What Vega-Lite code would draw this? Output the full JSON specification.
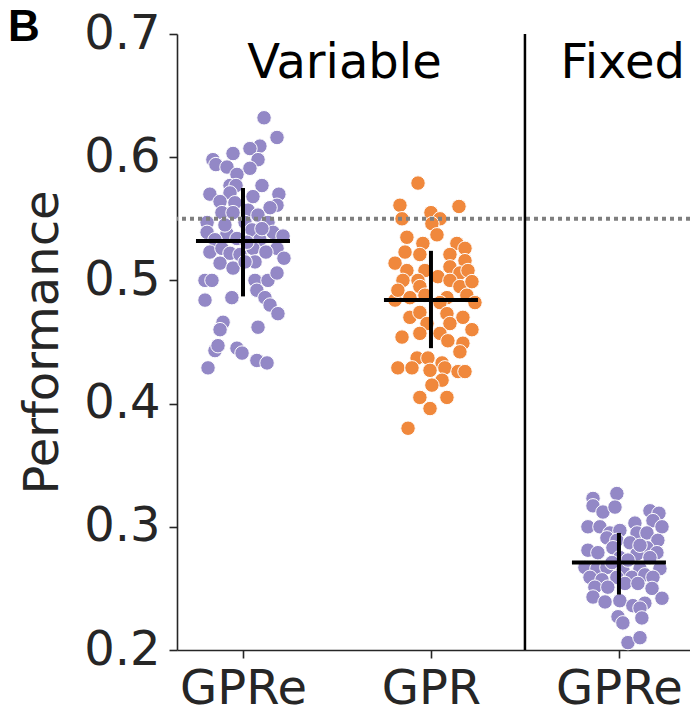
{
  "$schema": "https://vega.github.io/schema/vega-lite/v6.json",
  "width": 513,
  "height": 616,
  "autosize": {"type": "none"},
  "padding": {"left": 177, "top": 34, "right": 0, "bottom": 72},
  "background": "white",
  "config": {
    "view": {"stroke": null},
    "axis": {"labelFont": "DejaVu Sans", "titleFont": "DejaVu Sans", "labelFontSize": 48, "titleFontSize": 48, "labelColor": "#262626", "titleColor": "#262626", "domainColor": "#262626", "tickColor": "#262626", "domainWidth": 1.6, "tickWidth": 1.6, "tickSize": 8, "grid": false, "titleFontWeight": "normal"}
  },
  "datasets": {
    "pts": [
      {"model":"GPRe","pos":0.112,"perf":0.632},{"model":"GPRe","pos":0.181,"perf":0.616},{"model":"GPRe","pos":0.090,"perf":0.609},{"model":"GPRe","pos":0.037,"perf":0.607},{"model":"GPRe","pos":-0.053,"perf":0.603},{"model":"GPRe","pos":-0.160,"perf":0.598},{"model":"GPRe","pos":-0.144,"perf":0.594},{"model":"GPRe","pos":0.080,"perf":0.598},{"model":"GPRe","pos":-0.085,"perf":0.592},{"model":"GPRe","pos":0.037,"perf":0.591},{"model":"GPRe","pos":-0.032,"perf":0.586},{"model":"GPRe","pos":-0.069,"perf":0.577},{"model":"GPRe","pos":-0.037,"perf":0.577},{"model":"GPRe","pos":0.101,"perf":0.577},{"model":"GPRe","pos":-0.176,"perf":0.570},{"model":"GPRe","pos":-0.069,"perf":0.571},{"model":"GPRe","pos":0.053,"perf":0.568},{"model":"GPRe","pos":0.191,"perf":0.570},{"model":"GPRe","pos":-0.122,"perf":0.564},{"model":"GPRe","pos":-0.043,"perf":0.563},{"model":"GPRe","pos":0.181,"perf":0.561},{"model":"GPRe","pos":0.144,"perf":0.559},{"model":"GPRe","pos":-0.112,"perf":0.555},{"model":"GPRe","pos":-0.053,"perf":0.555},{"model":"GPRe","pos":0.027,"perf":0.557},{"model":"GPRe","pos":0.080,"perf":0.553},{"model":"GPRe","pos":-0.191,"perf":0.547},{"model":"GPRe","pos":0.011,"perf":0.547},{"model":"GPRe","pos":0.133,"perf":0.547},{"model":"GPRe","pos":-0.191,"perf":0.539},{"model":"GPRe","pos":-0.085,"perf":0.538},{"model":"GPRe","pos":0.160,"perf":0.539},{"model":"GPRe","pos":0.048,"perf":0.541},{"model":"GPRe","pos":0.213,"perf":0.536},{"model":"GPRe","pos":-0.149,"perf":0.533},{"model":"GPRe","pos":-0.032,"perf":0.534},{"model":"GPRe","pos":0.090,"perf":0.533},{"model":"GPRe","pos":-0.176,"perf":0.523},{"model":"GPRe","pos":-0.112,"perf":0.526},{"model":"GPRe","pos":-0.069,"perf":0.522},{"model":"GPRe","pos":-0.016,"perf":0.521},{"model":"GPRe","pos":0.053,"perf":0.526},{"model":"GPRe","pos":0.181,"perf":0.526},{"model":"GPRe","pos":0.122,"perf":0.523},{"model":"GPRe","pos":-0.122,"perf":0.514},{"model":"GPRe","pos":-0.053,"perf":0.510},{"model":"GPRe","pos":0.064,"perf":0.515},{"model":"GPRe","pos":0.011,"perf":0.515},{"model":"GPRe","pos":-0.202,"perf":0.500},{"model":"GPRe","pos":-0.165,"perf":0.500},{"model":"GPRe","pos":0.064,"perf":0.500},{"model":"GPRe","pos":0.133,"perf":0.500},{"model":"GPRe","pos":0.181,"perf":0.506},{"model":"GPRe","pos":0.074,"perf":0.492},{"model":"GPRe","pos":0.117,"perf":0.486},{"model":"GPRe","pos":-0.202,"perf":0.484},{"model":"GPRe","pos":-0.059,"perf":0.486},{"model":"GPRe","pos":0.144,"perf":0.480},{"model":"GPRe","pos":0.186,"perf":0.473},{"model":"GPRe","pos":-0.106,"perf":0.466},{"model":"GPRe","pos":-0.122,"perf":0.460},{"model":"GPRe","pos":0.080,"perf":0.462},{"model":"GPRe","pos":-0.149,"perf":0.443},{"model":"GPRe","pos":-0.133,"perf":0.447},{"model":"GPRe","pos":-0.032,"perf":0.445},{"model":"GPRe","pos":-0.005,"perf":0.441},{"model":"GPRe","pos":0.074,"perf":0.435},{"model":"GPRe","pos":0.128,"perf":0.433},{"model":"GPRe","pos":-0.186,"perf":0.429},{"model":"GPRe","pos":-0.096,"perf":0.545},{"model":"GPRe","pos":0.101,"perf":0.542},{"model":"GPRe","pos":0.218,"perf":0.518},{"model":"GPRe","pos":0.021,"perf":0.531},
      {"model":"GPR","pos":0.931,"perf":0.579},{"model":"GPR","pos":0.835,"perf":0.561},{"model":"GPR","pos":1.000,"perf":0.555},{"model":"GPR","pos":1.149,"perf":0.560},{"model":"GPR","pos":0.846,"perf":0.550},{"model":"GPR","pos":1.048,"perf":0.550},{"model":"GPR","pos":1.005,"perf":0.546},{"model":"GPR","pos":0.872,"perf":0.535},{"model":"GPR","pos":1.032,"perf":0.537},{"model":"GPR","pos":0.957,"perf":0.530},{"model":"GPR","pos":1.138,"perf":0.530},{"model":"GPR","pos":0.862,"perf":0.523},{"model":"GPR","pos":1.181,"perf":0.526},{"model":"GPR","pos":0.941,"perf":0.521},{"model":"GPR","pos":1.101,"perf":0.521},{"model":"GPR","pos":0.809,"perf":0.514},{"model":"GPR","pos":1.181,"perf":0.516},{"model":"GPR","pos":0.872,"perf":0.508},{"model":"GPR","pos":0.968,"perf":0.508},{"model":"GPR","pos":1.101,"perf":0.511},{"model":"GPR","pos":0.851,"perf":0.500},{"model":"GPR","pos":0.931,"perf":0.500},{"model":"GPR","pos":1.037,"perf":0.503},{"model":"GPR","pos":1.154,"perf":0.506},{"model":"GPR","pos":1.197,"perf":0.508},{"model":"GPR","pos":1.101,"perf":0.500},{"model":"GPR","pos":0.941,"perf":0.495},{"model":"GPR","pos":1.154,"perf":0.495},{"model":"GPR","pos":0.888,"perf":0.486},{"model":"GPR","pos":0.968,"perf":0.488},{"model":"GPR","pos":1.085,"perf":0.486},{"model":"GPR","pos":1.191,"perf":0.488},{"model":"GPR","pos":0.809,"perf":0.484},{"model":"GPR","pos":1.048,"perf":0.482},{"model":"GPR","pos":1.234,"perf":0.482},{"model":"GPR","pos":0.824,"perf":0.492},{"model":"GPR","pos":1.218,"perf":0.499},{"model":"GPR","pos":0.888,"perf":0.470},{"model":"GPR","pos":0.941,"perf":0.474},{"model":"GPR","pos":1.085,"perf":0.473},{"model":"GPR","pos":1.170,"perf":0.470},{"model":"GPR","pos":0.979,"perf":0.465},{"model":"GPR","pos":1.101,"perf":0.465},{"model":"GPR","pos":1.218,"perf":0.460},{"model":"GPR","pos":0.846,"perf":0.454},{"model":"GPR","pos":0.941,"perf":0.457},{"model":"GPR","pos":1.048,"perf":0.457},{"model":"GPR","pos":1.090,"perf":0.451},{"model":"GPR","pos":1.170,"perf":0.449},{"model":"GPR","pos":1.154,"perf":0.442},{"model":"GPR","pos":0.926,"perf":0.437},{"model":"GPR","pos":0.984,"perf":0.437},{"model":"GPR","pos":1.059,"perf":0.433},{"model":"GPR","pos":0.824,"perf":0.429},{"model":"GPR","pos":0.899,"perf":0.429},{"model":"GPR","pos":0.995,"perf":0.427},{"model":"GPR","pos":1.074,"perf":0.429},{"model":"GPR","pos":1.144,"perf":0.426},{"model":"GPR","pos":1.181,"perf":0.426},{"model":"GPR","pos":1.059,"perf":0.419},{"model":"GPR","pos":1.005,"perf":0.415},{"model":"GPR","pos":1.085,"perf":0.405},{"model":"GPR","pos":0.941,"perf":0.405},{"model":"GPR","pos":0.995,"perf":0.396},{"model":"GPR","pos":0.878,"perf":0.380},
      {"model":"GPRe","pos":1.989,"perf":0.327},{"model":"GPRe","pos":1.862,"perf":0.323},{"model":"GPRe","pos":1.862,"perf":0.317},{"model":"GPRe","pos":1.915,"perf":0.312},{"model":"GPRe","pos":1.979,"perf":0.316},{"model":"GPRe","pos":2.165,"perf":0.313},{"model":"GPRe","pos":2.213,"perf":0.311},{"model":"GPRe","pos":2.181,"perf":0.305},{"model":"GPRe","pos":1.835,"perf":0.300},{"model":"GPRe","pos":1.899,"perf":0.300},{"model":"GPRe","pos":2.085,"perf":0.303},{"model":"GPRe","pos":2.229,"perf":0.300},{"model":"GPRe","pos":1.952,"perf":0.295},{"model":"GPRe","pos":2.005,"perf":0.297},{"model":"GPRe","pos":2.096,"perf":0.295},{"model":"GPRe","pos":2.149,"perf":0.295},{"model":"GPRe","pos":1.936,"perf":0.291},{"model":"GPRe","pos":1.989,"perf":0.289},{"model":"GPRe","pos":2.207,"perf":0.289},{"model":"GPRe","pos":2.059,"perf":0.287},{"model":"GPRe","pos":2.149,"perf":0.283},{"model":"GPRe","pos":1.835,"perf":0.281},{"model":"GPRe","pos":1.888,"perf":0.279},{"model":"GPRe","pos":1.968,"perf":0.283},{"model":"GPRe","pos":2.202,"perf":0.279},{"model":"GPRe","pos":2.096,"perf":0.278},{"model":"GPRe","pos":2.005,"perf":0.275},{"model":"GPRe","pos":2.165,"perf":0.275},{"model":"GPRe","pos":1.819,"perf":0.267},{"model":"GPRe","pos":1.883,"perf":0.266},{"model":"GPRe","pos":1.936,"perf":0.267},{"model":"GPRe","pos":2.112,"perf":0.266},{"model":"GPRe","pos":2.218,"perf":0.266},{"model":"GPRe","pos":2.021,"perf":0.265},{"model":"GPRe","pos":1.846,"perf":0.259},{"model":"GPRe","pos":1.910,"perf":0.257},{"model":"GPRe","pos":1.989,"perf":0.259},{"model":"GPRe","pos":2.069,"perf":0.259},{"model":"GPRe","pos":2.138,"perf":0.261},{"model":"GPRe","pos":2.181,"perf":0.259},{"model":"GPRe","pos":1.872,"perf":0.251},{"model":"GPRe","pos":1.941,"perf":0.251},{"model":"GPRe","pos":2.032,"perf":0.254},{"model":"GPRe","pos":2.101,"perf":0.254},{"model":"GPRe","pos":2.176,"perf":0.250},{"model":"GPRe","pos":1.862,"perf":0.243},{"model":"GPRe","pos":1.926,"perf":0.239},{"model":"GPRe","pos":2.005,"perf":0.240},{"model":"GPRe","pos":2.074,"perf":0.236},{"model":"GPRe","pos":2.138,"perf":0.238},{"model":"GPRe","pos":2.229,"perf":0.242},{"model":"GPRe","pos":2.112,"perf":0.234},{"model":"GPRe","pos":1.995,"perf":0.227},{"model":"GPRe","pos":2.122,"perf":0.226},{"model":"GPRe","pos":2.021,"perf":0.222},{"model":"GPRe","pos":2.048,"perf":0.206},{"model":"GPRe","pos":2.112,"perf":0.210},{"model":"GPRe","pos":2.048,"perf":0.273},{"model":"GPRe","pos":1.963,"perf":0.271},{"model":"GPRe","pos":2.112,"perf":0.285}
    ],
    "summary": [
      {"pos": 0, "mean": 0.532, "lo": 0.487, "hi": 0.575},
      {"pos": 1, "mean": 0.484, "lo": 0.445, "hi": 0.524},
      {"pos": 2, "mean": 0.271, "lo": 0.245, "hi": 0.295}
    ],
    "labels": [
      {"text": "Variable", "pos": 0.54, "perf": 0.664},
      {"text": "Fixed", "pos": 2.02, "perf": 0.664}
    ]
  },
  "layer": [
    {
      "data": {"name": "pts"},
      "mark": {"type": "point", "filled": true, "size": 210, "stroke": "white", "strokeWidth": 1, "opacity": 1},
      "encoding": {
        "x": {"field": "pos", "type": "quantitative", "scale": {"domain": [-0.351, 2.378], "nice": false, "zero": false},
              "axis": {"values": [0, 1, 2], "title": null, "labelExpr": "datum.value == 1 ? 'GPR' : 'GPRe'", "labelPadding": 7, "labelFlush": false}},
        "y": {"field": "perf", "type": "quantitative", "scale": {"domain": [0.2, 0.7], "nice": false, "zero": false},
              "axis": {"values": [0.2, 0.3, 0.4, 0.5, 0.6, 0.7], "format": ".1f", "title": "Performance", "labelPadding": 9, "titlePadding": 16}},
        "color": {"field": "model", "type": "nominal", "scale": {"domain": ["GPRe", "GPR"], "range": ["#9388c6", "#f0883c"]}, "legend": null}
      }
    },
    {
      "data": {"name": "summary"},
      "mark": {"type": "tick", "orient": "horizontal", "color": "black", "opacity": 1, "thickness": 4, "size": 94},
      "encoding": {
        "x": {"field": "pos", "type": "quantitative"},
        "y": {"field": "mean", "type": "quantitative"}
      }
    },
    {
      "data": {"name": "summary"},
      "mark": {"type": "rule", "color": "black", "strokeWidth": 4},
      "encoding": {
        "x": {"field": "pos", "type": "quantitative"},
        "y": {"field": "lo", "type": "quantitative"},
        "y2": {"field": "hi"}
      }
    },
    {
      "data": {"values": [{}]},
      "mark": {"type": "rule", "color": "#7f7f7f", "strokeWidth": 4, "strokeDash": [4, 4]},
      "encoding": {"y": {"datum": 0.55, "type": "quantitative"}}
    },
    {
      "data": {"values": [{}]},
      "mark": {"type": "rule", "color": "black", "strokeWidth": 2.5},
      "encoding": {"x": {"datum": 1.5, "type": "quantitative"}}
    },
    {
      "data": {"name": "labels"},
      "mark": {"type": "text", "font": "DejaVu Sans", "fontSize": 48, "color": "black", "baseline": "alphabetic", "align": "center"},
      "encoding": {
        "x": {"field": "pos", "type": "quantitative"},
        "y": {"field": "perf", "type": "quantitative"},
        "text": {"field": "text"}
      }
    },
    {
      "data": {"values": [{"text": "B", "pos": -1.25, "perf": 0.694}]},
      "mark": {"type": "text", "font": "Liberation Sans", "fontWeight": "bold", "fontSize": 44, "color": "black", "align": "left", "baseline": "alphabetic"},
      "encoding": {
        "x": {"field": "pos", "type": "quantitative"},
        "y": {"field": "perf", "type": "quantitative"},
        "text": {"field": "text"}
      }
    }
  ]
}
